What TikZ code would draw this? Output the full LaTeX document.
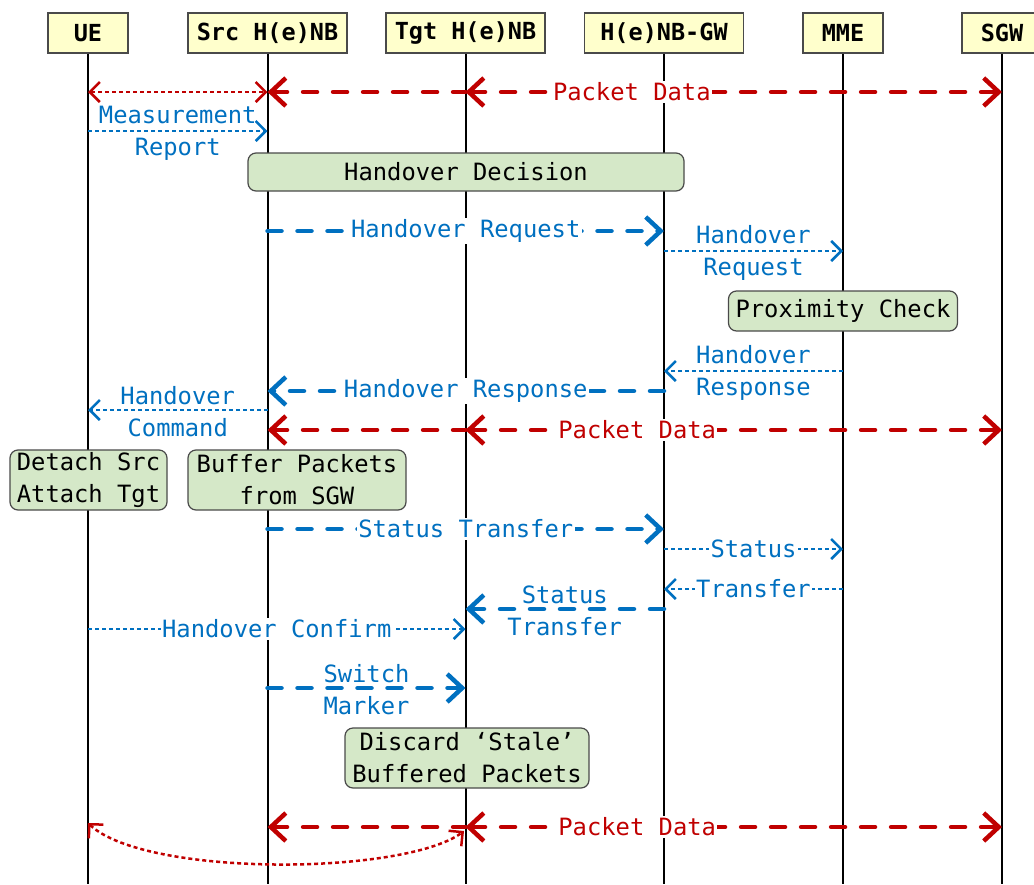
\documentclass[tikz,border=0pt]{standalone}
\usepackage{fontspec}
\setmonofont{DejaVu Sans Mono}
\usetikzlibrary{arrows.meta,bending}

\definecolor{msgblue}{HTML}{0070C0}
\definecolor{datared}{HTML}{C00000}
\definecolor{headfill}{HTML}{FFFFCC}
\definecolor{notefill}{HTML}{D5E8C8}
\definecolor{edge}{HTML}{4A4A4A}

\begin{document}
\begin{tikzpicture}[x=1pt,y=-1pt,
  every node/.style={font=\ttfamily\fontsize{23.8}{32}\selectfont},
  head/.style={draw=edge, line width=1.5pt, fill=headfill, minimum height=40pt,
    inner sep=0pt, font=\ttfamily\bfseries\fontsize{23.5}{32}\selectfont},
  note/.style={draw=edge, line width=1.2pt, fill=notefill, rounded corners=8pt,
    inner sep=0pt, align=center},
  life/.style={line width=2pt, black},
  thk/.style={line width=4.5pt, dash pattern=on 14pt off 16pt, line cap=round,
    >={Straight Barb[length=15pt,width=28pt]}, ->},
  thn/.style={line width=2.5pt, dash pattern=on 4pt off 3pt,
    >={Straight Barb[length=10pt,width=20pt]}, ->},
  bthk/.style={thk, msgblue},
  bthn/.style={thn, msgblue},
  rthk/.style={thk, datared},
  rthn/.style={thn, datared},
  inl/.style={fill=white, inner sep=1.5pt, text=msgblue},
  rinl/.style={fill=white, inner sep=1.5pt, text=datared},
  two/.style={inner sep=0pt, align=center, text=msgblue, yshift=-2pt}
]
\useasboundingbox (0,0) rectangle (1034,884);

% participants
\node[head, minimum width=80pt]  (ue)  at (88,33)    {UE};
\node[head, minimum width=159pt] (src) at (267.5,33) {Src H(e)NB};
\node[head, minimum width=159pt] (tgt) at (465.5,33) {Tgt H(e)NB};
\node[head, minimum width=159pt] (gw)  at (664,33)   {H(e)NB-GW};
\node[head, minimum width=80pt]  (mme) at (843,33)   {MME};
\node[head, minimum width=80pt]  (sgw) at (1002,33)  {SGW};

% lifelines
\foreach \p in {ue,src,tgt,gw,mme,sgw}
  \draw[life] (\p.south) -- (\p.south |- 0,884);

% notes
\node[note, minimum width=436pt, minimum height=38pt] (hodec) at (466,172) {Handover Decision};
\node[note, minimum width=229pt, minimum height=40pt] (prox)  at (843,311) {Proximity Check};
\node[note, minimum width=157pt, minimum height=60pt] (detach) at (88.5,480) {Detach Src\\Attach Tgt};
\node[note, minimum width=218pt, minimum height=60pt] (buffer) at (297,480) {Buffer Packets\\from SGW};
\node[note, minimum width=244pt, minimum height=60pt] (discard) at (467,758) {Discard ‘Stale’\\Buffered Packets};

% packet data, before handover
\draw[rthn, <->] (ue |- 0,92) -- (src |- 0,92);
\draw[rthk, <-] (src |- 0,92) -- (tgt |- 0,92);
\draw[rthk, <->] (tgt |- 0,92) -- node[rinl, pos=0.31] (pd1) {Packet Data} (sgw |- 0,92);

% measurement report
\draw[bthn] (ue |- 0,131) -- node[two] (mr) {Measurement\\Report} (src |- 0,131);

% handover request
\draw[bthk] (src |- 0,231) -- node[inl] (hreq) {Handover Request} (gw |- 0,231);
\draw[bthn] (gw |- 0,251) -- node[two] (hreq2) {Handover\\Request} (mme |- 0,251);

% handover response
\draw[bthn] (mme |- 0,371) -- node[two] (hres2) {Handover\\Response} (gw |- 0,371);
\draw[bthk] (gw |- 0,391) -- node[inl] (hres) {Handover Response} (src |- 0,391);
\draw[bthn] (src |- 0,410) -- node[two] (hcmd) {Handover\\Command} (ue |- 0,410);

% packet data, during handover
\draw[rthk, <-] (src |- 0,430) -- (tgt |- 0,430);
\draw[rthk, <->] (tgt |- 0,430) -- node[rinl, pos=0.32] (pd2) {Packet Data} (sgw |- 0,430);

% status transfer
\draw[bthk] (src |- 0,529) -- node[inl] (st1) {Status Transfer} (gw |- 0,529);
\draw[bthn] (gw |- 0,549) -- node[inl] (st2) {Status} (mme |- 0,549);
\draw[bthn] (mme |- 0,589) -- node[inl] (st3) {Transfer} (gw |- 0,589);
\draw[bthk] (gw |- 0,609) -- node[two] (st4) {Status\\Transfer} (tgt |- 0,609);

% handover confirm and switch marker
\draw[bthn] (ue |- 0,629) -- node[inl] (hconf) {Handover Confirm} (tgt |- 0,629);
\draw[bthk] (src |- 0,688) -- node[two] (sw) {Switch\\Marker} (tgt |- 0,688);

% packet data, after handover
\draw[rthk, <-] (src |- 0,827) -- (tgt |- 0,827);
\draw[rthk, <->] (tgt |- 0,827) -- node[rinl, pos=0.32] (pd3) {Packet Data} (sgw |- 0,827);
\coordinate (curveA) at (88,823);
\coordinate (curveB) at (464,831);
\draw[rthn, <->] (curveA) .. controls (140,878) and (410,876) .. (curveB);

\end{tikzpicture}
\end{document}
